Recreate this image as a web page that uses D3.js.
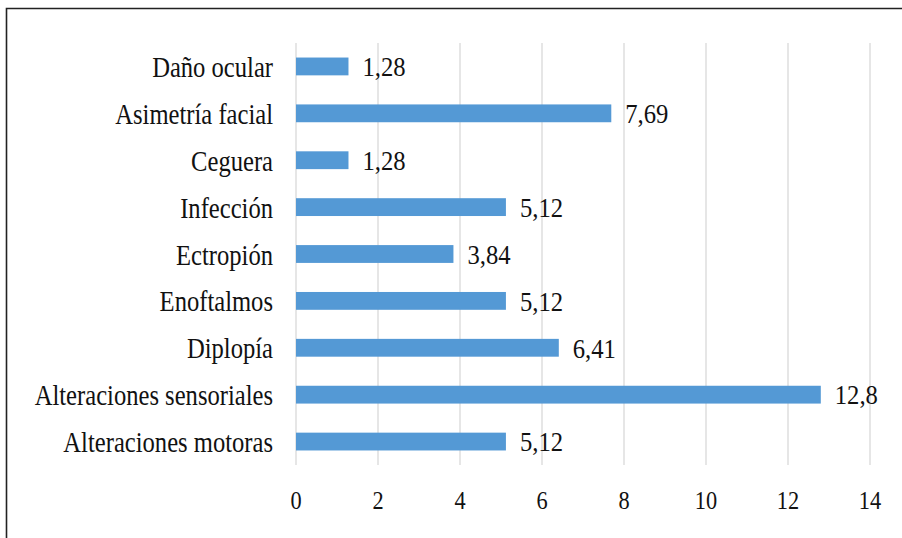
<!DOCTYPE html>
<html><head><meta charset="utf-8">
<script src="https://cdn.jsdelivr.net/npm/d3@7"></script>
<style>html,body{margin:0;padding:0;background:#fff;}svg{display:block;}</style>
</head><body>
<svg id="c" width="902" height="538"></svg>
<script>
const categories = ["Daño ocular","Asimetría facial","Ceguera","Infección","Ectropión","Enoftalmos","Diplopía","Alteraciones sensoriales","Alteraciones motoras"];
const values = [1.28, 7.69, 1.28, 5.12, 3.84, 5.12, 6.41, 12.8, 5.12];
const valueLabels = ["1,28","7,69","1,28","5,12","3,84","5,12","6,41","12,8","5,12"];
const ticks = [0, 2, 4, 6, 8, 10, 12, 14];

const svg = d3.select("#c");
const FONT = "'Liberation Serif','Times New Roman',serif";

// frame (top and left edges)
svg.append("path").attr("d", "M6.5,538 V8.5 H902").attr("fill", "none").attr("stroke", "#222").attr("stroke-width", 1.6);

const x = d3.scaleLinear().domain([0, 14]).range([296, 870]);
const y = d3.scaleBand().domain(categories).range([43, 465]).paddingInner(0.62).paddingOuter(0.31);

// gridlines
svg.append("g").selectAll("line").data(ticks).join("line")
  .attr("x1", d => x(d)).attr("x2", d => x(d))
  .attr("y1", 43).attr("y2", 465)
  .attr("stroke", "#d9d9d9").attr("stroke-width", 1.3);

// bars
svg.append("g").selectAll("rect").data(categories).join("rect")
  .attr("x", x(0)).attr("y", d => y(d))
  .attr("width", (d, i) => x(values[i]) - x(0))
  .attr("height", y.bandwidth())
  .attr("fill", "#5499d5");

// value labels
svg.append("g").selectAll("text").data(categories).join("text")
  .attr("transform", (d, i) => `translate(${x(values[i]) + 14},${y(d) + y.bandwidth() / 2}) scale(0.88,1)`)
  .attr("dy", "0.35em")
  .attr("font-family", FONT).attr("font-size", 28).attr("fill", "#111")
  .text((d, i) => valueLabels[i]);

// category labels
svg.append("g").selectAll("text").data(categories).join("text")
  .attr("transform", d => `translate(273,${y(d) + y.bandwidth() / 2}) scale(0.82,1)`)
  .attr("dy", "0.35em").attr("text-anchor", "end")
  .attr("font-family", FONT).attr("font-size", 30).attr("fill", "#111")
  .text(d => d);

// x tick labels
svg.append("g").selectAll("text").data(ticks).join("text")
  .attr("transform", d => `translate(${x(d)},509) scale(0.86,1)`)
  .attr("text-anchor", "middle")
  .attr("font-family", FONT).attr("font-size", 26).attr("fill", "#111")
  .text(d => d);
</script>
</body></html>
